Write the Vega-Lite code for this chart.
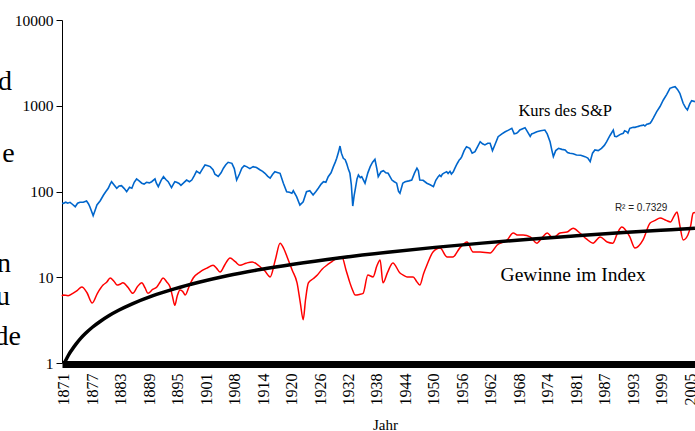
{
  "$schema": "https://vega.github.io/schema/vega-lite/v6.json",
  "width": 633,
  "height": 343,
  "autosize": "none",
  "padding": {"left": 62, "top": 20, "right": 0, "bottom": 68},
  "background": "white",
  "config": {"view": {"stroke": null}},
  "datasets": {
    "price": [
      {"t":1871.0,"v":73},{"t":1871.3,"v":72.8},{"t":1871.8,"v":75},{"t":1872.2,"v":73},{"t":1872.7,"v":74.8},{"t":1873.2,"v":71},{"t":1873.8,"v":66.5},{"t":1874.3,"v":73},{"t":1874.8,"v":74.8},{"t":1875.5,"v":75},{"t":1876.2,"v":77.5},{"t":1876.6,"v":72},{"t":1876.9,"v":66.5},{"t":1877.3,"v":58},{"t":1877.6,"v":52.2},{"t":1878.0,"v":60},{"t":1878.4,"v":69.6},{"t":1879.1,"v":78},{"t":1879.8,"v":91},{"t":1880.3,"v":100},{"t":1880.8,"v":109},{"t":1881.2,"v":122},{"t":1881.5,"v":130},{"t":1882.0,"v":120},{"t":1882.6,"v":109},{"t":1883.1,"v":116},{"t":1883.6,"v":117},{"t":1884.2,"v":108},{"t":1884.7,"v":99.5},{"t":1885.3,"v":112},{"t":1885.8,"v":109},{"t":1886.3,"v":128},{"t":1886.8,"v":140},{"t":1887.4,"v":132},{"t":1887.9,"v":125},{"t":1888.4,"v":122},{"t":1888.9,"v":128},{"t":1889.5,"v":126},{"t":1890.0,"v":130},{"t":1890.7,"v":140},{"t":1891.0,"v":125},{"t":1891.4,"v":114},{"t":1892.0,"v":135},{"t":1892.5,"v":149},{"t":1893.0,"v":138},{"t":1893.5,"v":130},{"t":1894.2,"v":111},{"t":1894.6,"v":122},{"t":1894.9,"v":130},{"t":1895.3,"v":128},{"t":1895.8,"v":124},{"t":1896.2,"v":118},{"t":1896.7,"v":125},{"t":1897.4,"v":136},{"t":1898.0,"v":130},{"t":1898.5,"v":136},{"t":1899.0,"v":152},{"t":1899.5,"v":173},{"t":1900.2,"v":163},{"t":1900.8,"v":185},{"t":1901.3,"v":204},{"t":1901.9,"v":200},{"t":1902.4,"v":195},{"t":1903.0,"v":180},{"t":1903.4,"v":159},{"t":1904.1,"v":150},{"t":1904.7,"v":165},{"t":1905.2,"v":187},{"t":1905.7,"v":205},{"t":1906.2,"v":219},{"t":1907.0,"v":213},{"t":1907.5,"v":185},{"t":1908.0,"v":136},{"t":1908.6,"v":160},{"t":1909.1,"v":187},{"t":1909.6,"v":200},{"t":1910.1,"v":195},{"t":1910.8,"v":185},{"t":1911.5,"v":195},{"t":1912.2,"v":190},{"t":1913.0,"v":178},{"t":1913.5,"v":172},{"t":1914.0,"v":163},{"t":1914.6,"v":150},{"t":1915.1,"v":143},{"t":1915.6,"v":158},{"t":1916.1,"v":170},{"t":1916.6,"v":167},{"t":1917.2,"v":163},{"t":1917.9,"v":125},{"t":1918.6,"v":99.5},{"t":1919.2,"v":98},{"t":1919.7,"v":95.3},{"t":1920.0,"v":102},{"t":1920.7,"v":87},{"t":1921.4,"v":69.6},{"t":1922.1,"v":76},{"t":1922.8,"v":99.5},{"t":1923.5,"v":102},{"t":1924.2,"v":91},{"t":1924.8,"v":100},{"t":1925.3,"v":109},{"t":1925.9,"v":122},{"t":1926.4,"v":130},{"t":1926.9,"v":128},{"t":1927.4,"v":149},{"t":1928.0,"v":165},{"t":1928.5,"v":195},{"t":1928.9,"v":220},{"t":1929.2,"v":244},{"t":1929.6,"v":290},{"t":1929.9,"v":339},{"t":1930.2,"v":280},{"t":1930.6,"v":244},{"t":1931.0,"v":235},{"t":1931.3,"v":213},{"t":1931.7,"v":180},{"t":1932.0,"v":163},{"t":1932.3,"v":120},{"t":1932.6,"v":67.7},{"t":1932.9,"v":90},{"t":1933.1,"v":104},{"t":1933.5,"v":140},{"t":1933.8,"v":156},{"t":1934.2,"v":145},{"t":1934.5,"v":149},{"t":1935.2,"v":125},{"t":1935.8,"v":165},{"t":1936.3,"v":195},{"t":1936.8,"v":220},{"t":1937.3,"v":237},{"t":1937.7,"v":185},{"t":1938.0,"v":149},{"t":1938.6,"v":170},{"t":1939.1,"v":175},{"t":1939.6,"v":165},{"t":1940.1,"v":163},{"t":1940.9,"v":136},{"t":1941.4,"v":130},{"t":1941.9,"v":125},{"t":1942.3,"v":100},{"t":1942.6,"v":95.3},{"t":1943.2,"v":125},{"t":1943.7,"v":130},{"t":1944.5,"v":133},{"t":1945.1,"v":136},{"t":1945.7,"v":165},{"t":1946.2,"v":187},{"t":1946.5,"v":175},{"t":1946.8,"v":136},{"t":1947.5,"v":135},{"t":1948.3,"v":125},{"t":1949.0,"v":120},{"t":1949.7,"v":114},{"t":1950.2,"v":135},{"t":1950.7,"v":149},{"t":1951.0,"v":155},{"t":1951.3,"v":150},{"t":1951.6,"v":160},{"t":1952.0,"v":165},{"t":1952.5,"v":170},{"t":1952.8,"v":162},{"t":1953.2,"v":172},{"t":1953.5,"v":160},{"t":1953.9,"v":170},{"t":1954.2,"v":185},{"t":1954.5,"v":200},{"t":1954.8,"v":215},{"t":1955.2,"v":235},{"t":1955.4,"v":240},{"t":1955.7,"v":255},{"t":1956.2,"v":300},{"t":1956.7,"v":333},{"t":1957.4,"v":319},{"t":1957.9,"v":280},{"t":1958.5,"v":291},{"t":1959.0,"v":330},{"t":1959.6,"v":381},{"t":1960.1,"v":360},{"t":1960.6,"v":349},{"t":1961.2,"v":365},{"t":1961.7,"v":365},{"t":1962.2,"v":300},{"t":1962.7,"v":349},{"t":1963.4,"v":436},{"t":1964.2,"v":470},{"t":1964.9,"v":498},{"t":1965.6,"v":520},{"t":1966.3,"v":546},{"t":1966.8,"v":470},{"t":1967.3,"v":477},{"t":1967.7,"v":500},{"t":1968.0,"v":521},{"t":1968.6,"v":540},{"t":1969.1,"v":555},{"t":1969.6,"v":500},{"t":1970.2,"v":440},{"t":1970.5,"v":470},{"t":1970.9,"v":477},{"t":1971.6,"v":498},{"t":1972.4,"v":510},{"t":1973.3,"v":521},{"t":1973.8,"v":470},{"t":1974.4,"v":381},{"t":1974.8,"v":300},{"t":1975.1,"v":255},{"t":1975.6,"v":300},{"t":1976.2,"v":319},{"t":1976.9,"v":310},{"t":1977.6,"v":305},{"t":1978.1,"v":285},{"t":1978.6,"v":279},{"t":1979.3,"v":275},{"t":1980.0,"v":267},{"t":1980.9,"v":265},{"t":1981.8,"v":255},{"t":1982.4,"v":245},{"t":1982.9,"v":223},{"t":1983.4,"v":280},{"t":1983.9,"v":305},{"t":1984.6,"v":300},{"t":1985.3,"v":319},{"t":1985.9,"v":345},{"t":1986.4,"v":381},{"t":1987.1,"v":450},{"t":1987.8,"v":521},{"t":1988.1,"v":440},{"t":1988.5,"v":436},{"t":1989.2,"v":460},{"t":1989.5,"v":470},{"t":1989.9,"v":477},{"t":1990.2,"v":510},{"t":1990.6,"v":500},{"t":1990.9,"v":480},{"t":1991.3,"v":546},{"t":1991.7,"v":555},{"t":1992.0,"v":560},{"t":1992.4,"v":560},{"t":1992.8,"v":570},{"t":1993.1,"v":575},{"t":1993.5,"v":585},{"t":1993.9,"v":590},{"t":1994.2,"v":597},{"t":1994.5,"v":580},{"t":1994.9,"v":610},{"t":1995.2,"v":615},{"t":1995.6,"v":624},{"t":1995.9,"v":660},{"t":1996.3,"v":720},{"t":1997.0,"v":853},{"t":1997.7,"v":980},{"t":1998.4,"v":1167},{"t":1999.1,"v":1350},{"t":1999.8,"v":1597},{"t":2000.4,"v":1640},{"t":2000.9,"v":1667},{"t":2001.4,"v":1550},{"t":2001.9,"v":1397},{"t":2002.3,"v":1200},{"t":2002.6,"v":1068},{"t":2003.1,"v":950},{"t":2003.5,"v":892},{"t":2004.0,"v":1050},{"t":2004.4,"v":1145},{"t":2005.1,"v":1115}
    ],
    "earn": [
      {"t":1871.0,"v":6.0},{"t":1871.2,"v":6.2},{"t":1872.3,"v":6.1},{"t":1873.3,"v":6.5},{"t":1874.2,"v":7.0},{"t":1875.2,"v":7.7},{"t":1876.3,"v":6.6},{"t":1877.4,"v":5.0},{"t":1878.5,"v":6.5},{"t":1879.7,"v":8.1},{"t":1880.5,"v":8.8},{"t":1881.2,"v":9.8},{"t":1882.0,"v":9.0},{"t":1882.7,"v":8.1},{"t":1883.3,"v":8.3},{"t":1883.9,"v":8.6},{"t":1885.0,"v":7.6},{"t":1886.0,"v":6.5},{"t":1887.0,"v":7.8},{"t":1887.9,"v":8.6},{"t":1888.6,"v":7.5},{"t":1889.2,"v":6.5},{"t":1890.2,"v":7.2},{"t":1891.1,"v":7.7},{"t":1891.8,"v":8.8},{"t":1892.4,"v":9.8},{"t":1893.2,"v":8.8},{"t":1893.9,"v":7.7},{"t":1894.4,"v":6.0},{"t":1894.9,"v":4.7},{"t":1895.4,"v":6.0},{"t":1896.0,"v":7.1},{"t":1896.6,"v":6.8},{"t":1897.1,"v":6.2},{"t":1898.0,"v":8.0},{"t":1898.8,"v":9.8},{"t":1900.2,"v":11.5},{"t":1901.7,"v":12.8},{"t":1903.0,"v":13.8},{"t":1903.8,"v":12.6},{"t":1904.5,"v":11.5},{"t":1905.5,"v":14.0},{"t":1906.6,"v":16.8},{"t":1907.7,"v":15.2},{"t":1908.7,"v":13.8},{"t":1910.0,"v":14.6},{"t":1911.3,"v":15.1},{"t":1912.2,"v":14.3},{"t":1913.0,"v":13.2},{"t":1914.0,"v":11.8},{"t":1915.1,"v":10.1},{"t":1916.2,"v":16.0},{"t":1917.2,"v":25},{"t":1918.0,"v":21.5},{"t":1918.7,"v":17.2},{"t":1919.8,"v":12.0},{"t":1920.8,"v":8.6},{"t":1921.5,"v":5.0},{"t":1922.1,"v":3.2},{"t":1922.6,"v":5.5},{"t":1923.2,"v":8.6},{"t":1924.2,"v":9.6},{"t":1925.1,"v":10.6},{"t":1926.1,"v":12.4},{"t":1927.1,"v":13.8},{"t":1928.2,"v":15.2},{"t":1929.3,"v":16.8},{"t":1930.3,"v":17.2},{"t":1931.2,"v":12.0},{"t":1932.0,"v":8.6},{"t":1932.6,"v":7.0},{"t":1933.1,"v":6.2},{"t":1934.0,"v":6.3},{"t":1934.8,"v":6.5},{"t":1935.8,"v":10.6},{"t":1936.9,"v":10.1},{"t":1937.7,"v":13.5},{"t":1938.4,"v":15.9},{"t":1939.0,"v":8.6},{"t":1940.0,"v":11.5},{"t":1941.1,"v":14.7},{"t":1942.6,"v":11.2},{"t":1943.4,"v":10.5},{"t":1944.1,"v":10.1},{"t":1945.4,"v":10.1},{"t":1946.1,"v":9.0},{"t":1946.8,"v":8.1},{"t":1947.6,"v":11.0},{"t":1948.3,"v":13.8},{"t":1949.6,"v":19.7},{"t":1951.1,"v":21.9},{"t":1952.6,"v":17.2},{"t":1953.8,"v":17.2},{"t":1955.3,"v":22.0},{"t":1956.8,"v":25.8},{"t":1958.1,"v":19.7},{"t":1959.6,"v":19.7},{"t":1961.7,"v":19.2},{"t":1963.2,"v":23.8},{"t":1965.3,"v":27.2},{"t":1966.6,"v":32.8},{"t":1967.6,"v":31.0},{"t":1968.7,"v":31.1},{"t":1970.2,"v":29.5},{"t":1971.6,"v":25},{"t":1972.7,"v":29.0},{"t":1973.8,"v":32.8},{"t":1975.0,"v":28.6},{"t":1976.5,"v":32.8},{"t":1978.0,"v":33.7},{"t":1979.3,"v":37.4},{"t":1980.7,"v":32.8},{"t":1982.1,"v":28.0},{"t":1983.5,"v":25},{"t":1985.0,"v":29.5},{"t":1986.5,"v":25.8},{"t":1987.7,"v":25},{"t":1988.7,"v":33.0},{"t":1989.6,"v":38.5},{"t":1991.3,"v":29.5},{"t":1992.4,"v":21.9},{"t":1994.1,"v":27.2},{"t":1995.6,"v":42.9},{"t":1996.7,"v":46.0},{"t":1997.7,"v":49},{"t":1999.0,"v":46.0},{"t":1999.9,"v":44.2},{"t":2000.7,"v":52.0},{"t":2001.3,"v":57.6},{"t":2001.9,"v":40.0},{"t":2002.6,"v":27.2},{"t":2003.6,"v":31.1},{"t":2004.2,"v":40.0},{"t":2004.7,"v":56},{"t":2005.1,"v":57}
    ],
    "trend": [
      {"t":1871.5,"v":1.0},{"t":1872.0,"v":1.13},{"t":1872.5,"v":1.27},{"t":1873.0,"v":1.40},{"t":1874.0,"v":1.67},{"t":1875.0,"v":1.95},{"t":1876.0,"v":2.22},{"t":1877.5,"v":2.63},{"t":1879.0,"v":3.03},{"t":1881.0,"v":3.58},{"t":1883.0,"v":4.12},{"t":1886.0,"v":4.93},{"t":1890.0,"v":6.02},{"t":1895.0,"v":7.37},{"t":1900.0,"v":8.73},{"t":1906.0,"v":10.4},{"t":1913.0,"v":12.3},{"t":1920.0,"v":14.2},{"t":1930.0,"v":16.9},{"t":1940.0,"v":19.6},{"t":1950.0,"v":22.3},{"t":1960.0,"v":25.0},{"t":1970.0,"v":27.7},{"t":1980.0,"v":30.4},{"t":1990.0,"v":33.2},{"t":2000.0,"v":35.9},{"t":2005.1,"v":37.3}
    ],
    "side": [
      {"t":1860.4,"v":1527,"s":"d"},{"t":1861.0,"v":221,"s":"e"},{"t":1860.2,"v":11.5,"s":"n"},{"t":1860.0,"v":4.75,"s":"u"},{"t":1862.3,"v":1.62,"s":"de"}
    ]
  },
  "encoding": {
    "x": {
      "field": "t", "type": "quantitative",
      "scale": {"domain": [1871, 2005.11], "nice": false, "zero": false},
      "axis": {
        "values": [1871.4,1877.43,1883.46,1889.49,1895.52,1901.55,1907.58,1913.61,1919.64,1925.67,1931.7,1937.73,1943.76,1949.79,1955.82,1961.85,1967.88,1973.91,1979.94,1985.97,1992.0,1998.03,2004.06],
        "labelExpr": "['1871','1877','1883','1889','1895','1901','1908','1914','1920','1926','1932','1938','1944','1950','1956','1962','1968','1974','1981','1987','1993','1999','2005'][round((datum.value-1871.4)/6.03)]",
        "labelAngle": 270,
        "labelFont": "Liberation Serif", "labelFontSize": 16, "labelColor": "black",
        "labelPadding": 9, "labelOverlap": false, "labelFlush": false,
        "ticks": false, "grid": false,
        "domainColor": "black", "domainWidth": 7, "offset": 1,
        "title": "Jahr", "titleFont": "Liberation Serif", "titleFontSize": 15,
        "titleFontWeight": "normal", "titleColor": "black", "titlePadding": 12, "titleX": 323
      }
    },
    "y": {
      "field": "v", "type": "quantitative",
      "scale": {"type": "log", "domain": [1, 10000], "nice": false},
      "axis": {
        "values": [1, 10, 100, 1000, 10000], "format": "d",
        "labelFont": "Liberation Serif", "labelFontSize": 15.5, "labelColor": "black",
        "tickColor": "black", "tickSize": 6, "labelPadding": 3,
        "domainColor": "black", "grid": false, "title": null
      }
    }
  },
  "layer": [
    {
      "data": {"values": [{}]},
      "mark": {"type": "rule", "color": "#8c8c8c", "strokeWidth": 1},
      "encoding": {"y": {"datum": 10000}, "x": null}
    },
    {
      "data": {"name": "price"},
      "mark": {"type": "line", "color": "#0066cc", "strokeWidth": 1.6}
    },
    {
      "data": {"name": "earn"},
      "mark": {"type": "line", "color": "#ff0000", "strokeWidth": 1.5, "interpolate": "monotone"}
    },
    {
      "data": {"name": "trend"},
      "mark": {"type": "line", "color": "black", "strokeWidth": 3.5, "interpolate": "monotone"}
    },
    {
      "data": {"name": "side"},
      "mark": {"type": "text", "font": "Liberation Serif", "fontSize": 28, "align": "right", "baseline": "alphabetic", "color": "black"},
      "encoding": {"text": {"field": "s"}}
    },
    {
      "data": {"values": [
        {"t": 1977.6, "v": 759, "s": "Kurs des S&P", "f": 16.5},
        {"t": 1979.3, "v": 9.04, "s": "Gewinne im Index", "f": 19.5}
      ]},
      "mark": {"type": "text", "font": "Liberation Serif", "align": "center", "baseline": "alphabetic", "color": "black"},
      "encoding": {"text": {"field": "s"}, "size": {"field": "f", "type": "quantitative", "scale": null}}
    },
    {
      "data": {"values": [{"t": 1993.7, "v": 59.3, "s": "R² = 0.7329"}]},
      "mark": {"type": "text", "font": "Liberation Sans", "fontSize": 10, "align": "center", "baseline": "alphabetic", "color": "#222222"},
      "encoding": {"text": {"field": "s"}}
    }
  ]
}
